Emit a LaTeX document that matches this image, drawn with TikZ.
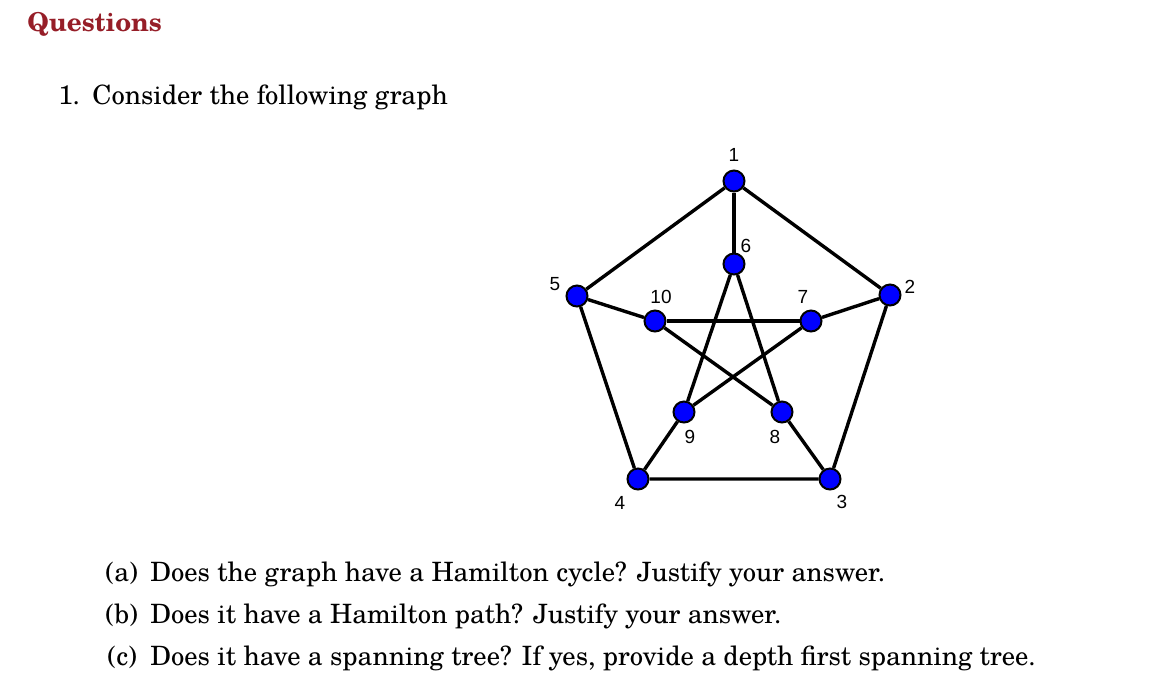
\documentclass[tikz,border=0pt]{standalone}
\usepackage{fontspec}
\setmainfont{TeX Gyre Schola}
\newfontfamily\labelfont{Liberation Sans}
\usetikzlibrary{positioning,backgrounds}
\definecolor{titlecolor}{RGB}{150,30,40}
\definecolor{vertexcolor}{RGB}{0,0,255}

\begin{document}
\begin{tikzpicture}[
    x=0.5pt, y=-0.5pt,
    vertex/.style={circle, draw=black, line width=1pt, fill=vertexcolor, minimum size=10.5pt, inner sep=0pt},
    vlabel/.style={font=\labelfont\fontsize{9.5}{11}\selectfont, inner sep=0pt},
    edge/.style={line width=1.7pt, black},
    qtext/.style={font=\fontsize{13.3}{15}\selectfont, anchor=base west, inner sep=0pt}
]
\useasboundingbox (0,0) rectangle (1156,677);

% Heading
\node[qtext, font=\bfseries\fontsize{13}{15}\selectfont, text=titlecolor] (title) at (27,31) {Questions};
\node[qtext] (num) at (58,104) {1.};
\node[qtext] (question) at (92,104) {Consider the following graph};

% Outer pentagon
\node[vertex] (v1) at (734,181) {};
\node[vertex] (v2) at (890,295) {};
\node[vertex] (v3) at (830,479) {};
\node[vertex] (v4) at (638,479) {};
\node[vertex] (v5) at (577,296) {};

% Inner star
\node[vertex] (v6) at (734,264) {};
\node[vertex] (v7) at (811,321) {};
\node[vertex] (v8) at (782,412) {};
\node[vertex] (v9) at (684,412) {};
\node[vertex] (v10) at (655,321) {};

% Vertex labels
\node[vlabel] (l1) at (734,155) {1};
\node[vlabel] (l2) at (910,287) {2};
\node[vlabel] (l3) at (842,502) {3};
\node[vlabel] (l4) at (620,503) {4};
\node[vlabel] (l5) at (555,284) {5};
\node[vlabel] (l6) at (746,246) {6};
\node[vlabel] (l7) at (803,297) {7};
\node[vlabel] (l8) at (775,437) {8};
\node[vlabel] (l9) at (690,437) {9};
\node[vlabel] (l10) at (661,297) {10};

% Edges
\begin{scope}[on background layer]
\draw[edge] (v1) -- (v2) -- (v3) -- (v4) -- (v5) -- (v1);
\draw[edge] (v1) -- (v6);
\draw[edge] (v2) -- (v7);
\draw[edge] (v3) -- (v8);
\draw[edge] (v4) -- (v9);
\draw[edge] (v5) -- (v10);
\draw[edge] (v6) -- (v9);
\draw[edge] (v6) -- (v8);
\draw[edge] (v10) -- (v7);
\draw[edge] (v10) -- (v8);
\draw[edge] (v7) -- (v9);
\end{scope}

% Sub-questions
\node[qtext] (pa) at (105,581) {(a)};
\node[qtext] (qa) at (150,581) {Does the graph have a Hamilton cycle? Justify your answer.};
\node[qtext] (pb) at (105,623) {(b)};
\node[qtext] (qb) at (150,623) {Does it have a Hamilton path? Justify your answer.};
\node[qtext] (pc) at (107,665) {(c)};
\node[qtext] (qc) at (150,665) {Does it have a spanning tree? If yes, provide a depth first spanning tree.};

\end{tikzpicture}
\end{document}
